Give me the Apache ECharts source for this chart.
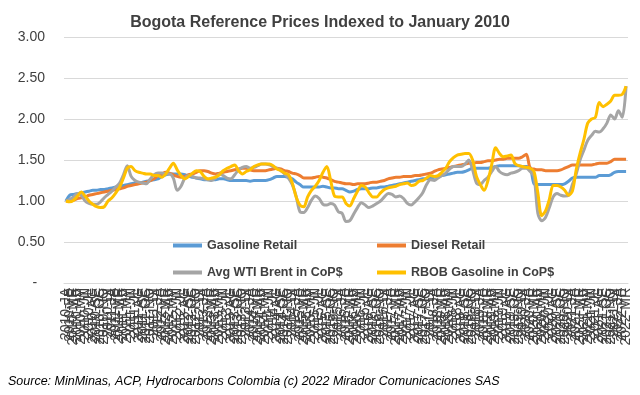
<!DOCTYPE html>
<html>
<head>
<meta charset="utf-8">
<script src="https://cdn.jsdelivr.net/npm/echarts@6/dist/echarts.min.js"></script>
<style>html,body{margin:0;padding:0;background:#fff;}#c{width:640px;height:395px;}</style>
</head>
<body>
<div id="c"></div>
<script>
var years = [2010,2011,2012,2013,2014,2015,2016,2017,2018,2019,2020,2021,2022];
var monthCodes = ['JA','FE','MR','AB','MY','JN','JL','AG','SE','OC','NO','DI'];
var lastMonthCount = 3;

var gasolineRetail = [
 1.00,1.07,1.08,1.09,1.10,1.11,1.12,1.13,1.13,1.14,1.14,1.15,
 1.16,1.17,1.18,1.19,1.20,1.21,1.22,1.22,1.23,1.24,1.25,1.26,
 1.27,1.30,1.32,1.33,1.33,1.33,1.33,1.32,1.30,1.29,1.28,1.27,
 1.26,1.26,1.26,1.26,1.27,1.27,1.26,1.25,1.25,1.25,1.25,1.25,
 1.24,1.25,1.25,1.25,1.25,1.26,1.28,1.30,1.30,1.30,1.29,1.27,
 1.23,1.20,1.17,1.17,1.17,1.17,1.17,1.18,1.17,1.16,1.16,1.15,
 1.15,1.13,1.11,1.12,1.14,1.15,1.15,1.15,1.16,1.16,1.17,1.17,
 1.18,1.19,1.20,1.21,1.22,1.23,1.24,1.25,1.26,1.27,1.27,1.28,
 1.29,1.30,1.31,1.32,1.33,1.34,1.35,1.35,1.36,1.38,1.40,1.40,
 1.40,1.40,1.40,1.41,1.42,1.43,1.43,1.43,1.43,1.43,1.43,1.42,
 1.42,1.41,1.21,1.20,1.20,1.20,1.20,1.20,1.20,1.20,1.21,1.24,
 1.28,1.29,1.29,1.29,1.29,1.29,1.29,1.31,1.31,1.31,1.32,1.35,
 1.36,1.36,1.36
];
var dieselRetail = [
 1.00,1.00,1.01,1.03,1.04,1.05,1.07,1.08,1.09,1.10,1.11,1.12,
 1.13,1.14,1.15,1.16,1.18,1.19,1.20,1.21,1.22,1.23,1.25,1.27,
 1.31,1.33,1.35,1.34,1.32,1.30,1.29,1.30,1.32,1.33,1.35,1.37,
 1.37,1.36,1.34,1.33,1.34,1.35,1.36,1.37,1.38,1.39,1.40,1.40,
 1.38,1.37,1.37,1.37,1.37,1.38,1.39,1.40,1.39,1.37,1.36,1.34,
 1.33,1.31,1.28,1.28,1.28,1.29,1.30,1.29,1.28,1.26,1.24,1.23,
 1.22,1.21,1.21,1.20,1.21,1.21,1.21,1.22,1.23,1.23,1.24,1.25,
 1.27,1.28,1.29,1.29,1.30,1.30,1.30,1.31,1.31,1.32,1.33,1.34,
 1.36,1.38,1.39,1.40,1.41,1.42,1.43,1.44,1.45,1.46,1.46,1.47,
 1.47,1.48,1.49,1.49,1.50,1.51,1.51,1.52,1.52,1.52,1.52,1.54,
 1.57,1.40,1.39,1.38,1.38,1.37,1.37,1.37,1.37,1.38,1.40,1.42,
 1.44,1.44,1.44,1.44,1.44,1.44,1.45,1.46,1.46,1.46,1.48,1.51,
 1.51,1.51,1.51
];
var wtiBrent = [
 1.00,1.02,1.05,1.09,1.07,1.00,0.97,0.96,0.96,0.99,1.04,1.08,
 1.12,1.17,1.22,1.32,1.43,1.30,1.25,1.23,1.22,1.21,1.27,1.32,
 1.34,1.34,1.33,1.33,1.28,1.13,1.18,1.28,1.31,1.30,1.28,1.28,
 1.27,1.26,1.25,1.28,1.33,1.31,1.28,1.27,1.32,1.38,1.41,1.42,
 1.40,1.41,1.43,1.45,1.45,1.44,1.42,1.40,1.37,1.33,1.28,1.20,
 1.06,0.87,0.86,0.92,1.01,1.06,1.03,0.96,0.95,0.97,0.95,0.87,
 0.85,0.75,0.76,0.84,0.92,0.98,0.95,0.92,0.94,0.97,1.00,1.05,
 1.09,1.08,1.05,1.06,1.03,0.97,0.95,0.99,1.04,1.10,1.20,1.26,
 1.25,1.28,1.31,1.34,1.39,1.42,1.42,1.42,1.45,1.50,1.38,1.22,
 1.20,1.25,1.29,1.36,1.42,1.36,1.33,1.32,1.34,1.35,1.37,1.40,
 1.40,1.36,1.30,0.85,0.76,0.80,0.92,1.05,1.09,1.07,1.06,1.07,
 1.20,1.33,1.50,1.62,1.74,1.80,1.85,1.84,1.88,1.95,2.05,2.00,
 2.10,2.02,2.40
];
var rbobGasoline = [
 1.00,0.99,1.01,1.06,1.11,1.06,1.00,0.96,0.93,0.92,0.93,1.00,
 1.04,1.10,1.17,1.28,1.40,1.42,1.37,1.35,1.34,1.33,1.33,1.31,
 1.31,1.29,1.33,1.40,1.46,1.38,1.31,1.27,1.30,1.34,1.37,1.36,
 1.30,1.27,1.28,1.29,1.32,1.37,1.40,1.42,1.44,1.37,1.33,1.36,
 1.38,1.42,1.44,1.45,1.45,1.45,1.43,1.39,1.37,1.34,1.32,1.22,
 1.05,0.95,0.93,1.05,1.13,1.18,1.25,1.35,1.42,1.25,1.06,1.05,
 1.05,0.97,0.94,1.03,1.12,1.19,1.17,1.10,1.05,1.05,1.10,1.14,
 1.16,1.17,1.18,1.20,1.21,1.22,1.19,1.20,1.24,1.25,1.28,1.31,
 1.30,1.31,1.35,1.40,1.48,1.53,1.56,1.57,1.58,1.58,1.50,1.30,
 1.20,1.13,1.25,1.45,1.65,1.58,1.54,1.55,1.56,1.46,1.43,1.42,
 1.41,1.40,1.36,1.10,0.82,0.88,1.02,1.19,1.19,1.17,1.13,1.07,
 1.12,1.38,1.58,1.75,1.95,2.00,2.02,2.20,2.15,2.18,2.22,2.29,
 2.29,2.30,2.40
];
var seriesNames = ['Gasoline Retail','Diesel Retail','Avg WTI Brent in CoP$','RBOB Gasoline in CoP$'];
var seriesColors = ['#5B9BD5','#ED7D31','#A5A5A5','#FFC000'];
var yTicks = [0,0.5,1,1.5,2,2.5,3];

var categories = [];
years.forEach(function(y, yi){
  var n = (yi === years.length - 1) ? lastMonthCount : 12;
  for (var m = 0; m < n; m++) categories.push(y + '-' + monthCodes[m]);
});

var dataSets = [gasolineRetail, dieselRetail, wtiBrent, rbobGasoline];
var FONT = 'Liberation Sans, Arial, sans-serif';

var legendPos = [[168,234],[372,234],[168,261],[372,261]];
var legends = seriesNames.map(function(n, i){
  return {
    data: [n], left: legendPos[i][0], top: legendPos[i][1],
    icon: 'rect', itemWidth: 29, itemHeight: 4, itemGap: 8,
    textStyle: {fontFamily: FONT, fontSize: 12.5, fontWeight: 'bold', color: '#404040'},
    selectedMode: false
  };
});

var chart = echarts.init(document.getElementById('c'), null, {renderer: 'canvas'});
chart.setOption({
  animation: false,
  backgroundColor: '#ffffff',
  title: {
    text: 'Bogota Reference Prices Indexed to January 2010',
    left: 'center', top: 10,
    textStyle: {fontFamily: FONT, fontSize: 16, fontWeight: 'bold', color: '#404040'}
  },
  legend: legends,
  grid: {left: 64, right: 12, top: 37, bottom: 112},
  xAxis: {
    type: 'category', data: categories, boundaryGap: true,
    axisLine: {show: true, lineStyle: {color: '#d9d9d9'}},
    axisTick: {show: false},
    axisLabel: {interval: 0, rotate: 90, margin: 5, fontFamily: FONT, fontSize: 14, color: '#404040'}
  },
  yAxis: {
    type: 'value', min: yTicks[0], max: yTicks[yTicks.length-1], interval: 0.5,
    axisLine: {show: false}, axisTick: {show: false},
    splitLine: {lineStyle: {color: '#d9d9d9', width: 1}},
    axisLabel: {
      margin: 19, fontFamily: FONT, fontSize: 14, color: '#404040',
      formatter: function(v){ return v === 0 ? '-  ' : v.toFixed(2); }
    }
  },
  graphic: [{
    type: 'text', left: 8, top: 375,
    style: {text: 'Source: MinMinas, ACP, Hydrocarbons Colombia (c) 2022 Mirador Comunicaciones SAS',
      font: 'italic 12.5px ' + FONT, fill: '#000000'}
  }],
  series: dataSets.map(function(d, i){
    return {
      name: seriesNames[i], type: 'line', data: d, smooth: 0.3,
      showSymbol: false, symbol: 'none',
      lineStyle: {width: 3, color: seriesColors[i]},
      itemStyle: {color: seriesColors[i]}, z: 2 + i
    };
  })
});
</script>
</body>
</html>
